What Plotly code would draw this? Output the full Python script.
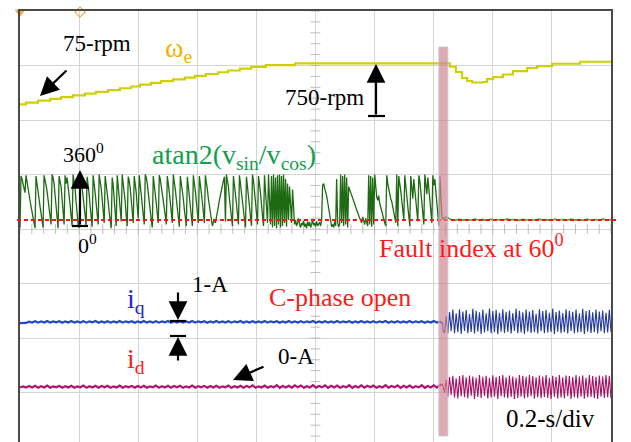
import numpy as np
import plotly.graph_objects as go

# ---------------------------------------------------------------------------
# Screen / timebase settings (scope style: 10 x 8 divisions, 0.2 s/div)
# ---------------------------------------------------------------------------
W, H = 631, 442
M_L, M_R, M_T = 20, 20, 11
DIV_X, DIV_Y = 10, 8
SEC_PER_DIV = 0.2
T_END = DIV_X * SEC_PER_DIV
PX_PER_DIV_Y = 54.5
Y_LOW = DIV_Y - (H - M_T) / PX_PER_DIV_Y  # lower screen edge (last row is cut)
T_FAULT = 1.431                             # C-phase open instant [s]
FAULT_INDEX_DEG = 60                        # detected fault index

# Channel offsets / gains (divisions)
OMEGA_ZERO, OMEGA_GAIN = 6.2045, 0.001114   # div, div per rpm
ANGLE_ZERO, ANGLE_GAIN = 4.0, 1 / 360        # div, div per degree
IQ_ZERO, ID_ZERO, AMP_GAIN = 2.0, 1.101, 0.2936  # div, div, div per A

# ---------------------------------------------------------------------------
# Recorded signals
# ---------------------------------------------------------------------------
omega_t = [0.000, 0.020, 0.061, 0.102, 0.139, 0.179, 0.220, 0.257, 0.298, 0.338,
           0.376, 0.406, 0.443, 0.477, 0.518, 0.558, 0.592, 0.629, 0.670, 0.704,
           0.744, 0.782, 0.832, 0.931, 1.431, 1.455, 1.475, 1.496, 1.513, 1.530,
           1.567, 1.580, 1.601, 1.634, 1.668, 1.716, 1.750, 1.800, 1.895, 2.000]
omega_rpm = [75, 104, 134, 163, 192, 222, 251, 280, 310, 339,
             368, 398, 427, 456, 486, 515, 544, 574, 603, 632,
             662, 691, 720, 750, 750, 694, 607, 508, 459, 434,
             442, 491, 524, 566, 623, 673, 705, 743, 776, 776]

# atan2(v_sin / v_cos) [deg] before the fault
angle_pre = [
    10, 350, 330, 300, 270, 240, 355, 320, 280, 230, 190, 150, 110, 70, 30, 5, 350, 310, 260, 200,
    150, 90, 40, 10, 355, 330, 290, 250, 200, 140, 80, 30, 360, 340, 300, 210, 120, 40, 5, 350,
    320, 280, 200, 110, 30, 355, 300, 340, 290, 230, 160, 90, 20, 360, 320, 260, 180, 100, 30, 8,
    355, 330, 280, 210, 150, 90, 20, 345, 300, 230, 150, 60, 15, 355, 310, 240, 170, 90, 30, 360,
    320, 270, 200, 120, 40, 350, 300, 240, 180, 110, 40, 5, 340, 290, 200, 90, 20, 355, 300, 210,
    130, 50, 360, 310, 250, 180, 90, 20, 345, 320, 270, 190, 110, 40, 350, 310, 240, 150, 70, 355,
    290, 220, 160, 100, 30, 360, 340, 300, 250, 190, 120, 60, 10, 350, 300, 230, 170, 100, 40, 355,
    330, 280, 240, 190, 140, 90, 30, 350, 300, 250, 180, 110, 40, 360, 320, 260, 200, 130, 60, 15,
    350, 310, 260, 200, 130, 60, 20, 345, 280, 210, 150, 80, 20, 355, 310, 250, 180, 110, 40, 350,
    300, 240, 180, 110, 40, 355, 320, 260, 200, 150, 90, 40, 20, 45, 60, 40, 70, 110, 150, 190,
    230, 260, 290, 320, 345, 50, 360, 330, 280, 200, 130, 60, 20, 350, 300, 240, 170, 100, 30, 355,
    300, 250, 190, 120, 50, 10, 345, 290, 220, 150, 80, 20, 360, 320, 250, 170, 100, 30, 350, 300,
    240, 160, 80, 20, 355, 260, 150, 40, 360, 200, 30, 350, 10, 360, 20, 340, 5, 355, 30, 360,
    10, 350, 20, 360, 40, 330, 15, 300, 60, 280, 120, 40, 260, 90, 30, 60, 20, 40, 70, 30,
    10, 40, 25, 55, 15, 35, 5, 50, 20, 45, 10, 30, 60, 25, 40, 15, 50, 20, 35, 45,
    20, 60, 290, 300, 270, 250, 220, 180, 130, 80, 40, 15, 30, 10, 50, 20, 330, 40, 15, 35,
    360, 40, 350, 20, 360, 30, 340, 10, 280, 260, 250, 230, 210, 190, 170, 150, 130, 110, 90, 70,
    60, 40, 80, 50, 30, 70, 40, 20, 355, 30, 350, 15, 340, 30, 360, 250, 210, 190, 220, 170,
    140, 120, 100, 70, 40, 20, 355, 300, 260, 230, 200, 180, 150, 120, 80, 40, 360, 20, 350, 310,
    250, 190, 130, 60, 355, 300, 220, 150, 80, 20, 350, 280, 200, 330, 260, 190, 120, 50, 355, 320,
    250, 180, 100, 30, 360, 300, 230, 340, 280, 200, 120, 40, 355, 290, 330, 250, 170, 80, 20, 350,
    200, 80, 60]
# after the fault the angle locks at the fault index
angle_post = [70, 78, 62, 57, 64, 59, 63, 58, 65, 60, 62, 57, 64, 59, 63, 58,
              65, 61, 62, 57, 64, 60, 63, 58, 65, 59, 62, 57, 64, 60, 63, 58,
              65, 59, 62, 57, 64, 60, 63, 58, 65, 59, 62]

# q-axis current [A]
iq_pre = [
    0.93, 0.95, 0.94, 1.02, 0.97, 1.05, 0.96, 1.04, 0.97, 1.06,
    0.96, 1.03, 0.98, 1.05, 0.95, 1.04, 0.97, 1.06, 0.96, 1.03,
    0.97, 1.05, 0.96, 1.04, 0.98, 1.06, 0.95, 1.04, 0.97, 1.05,
    0.96, 1.03, 0.97, 1.06, 0.96, 1.04, 0.98, 1.05, 0.95, 1.04,
    0.97, 1.06, 0.96, 1.03, 0.97, 1.05, 0.96, 1.04, 0.98, 1.06,
    0.95, 1.04, 0.97, 1.05, 0.96, 1.03, 0.97, 1.06, 0.96, 1.04,
    0.98, 1.05, 0.95, 1.04, 0.97, 1.06, 0.96, 1.03, 0.97, 1.05,
    0.96, 1.04, 0.98, 1.06, 0.95, 1.04, 0.97, 1.05, 0.96, 1.03,
    0.97, 1.06, 0.96, 1.04, 0.98, 1.05, 0.95, 1.04, 0.97, 1.06,
    0.96, 1.03, 0.97, 1.05, 0.96, 1.04, 0.98, 1.06, 0.95, 1.04,
    0.97, 1.05, 0.96, 1.03, 0.97, 1.06, 0.96, 1.04, 0.98, 1.05,
    0.95, 1.04, 0.97, 1.06, 0.96, 1.03, 0.97, 1.05, 0.96, 1.04,
    0.98, 1.06, 0.95, 1.04, 0.97, 1.05, 0.96, 1.03, 0.97, 1.06,
    0.96, 1.04, 0.98, 1.05, 0.95, 1.04, 0.97, 1.06, 0.96, 1.02,
    0.90]
iq_post = [
    0.50, 0.32, 1.35, 0.28, 1.62, 0.42, 1.78, 0.30, 1.55, 0.36,
    1.80, 0.25, 1.66, 0.44, 1.74, 0.30, 1.50, 0.38, 1.82, 0.28,
    1.70, 0.40, 1.60, 0.26, 1.78, 0.34, 1.55, 0.42, 1.84, 0.30,
    1.68, 0.36, 1.76, 0.24, 1.58, 0.40, 1.80, 0.32, 1.64, 0.38,
    1.72, 0.28, 1.56, 0.44, 1.82, 0.30, 1.70, 0.34, 1.60, 0.26,
    1.78, 0.40, 1.66, 0.32, 1.74, 0.36, 1.52, 0.28, 1.80, 0.42,
    1.68, 0.30, 1.76, 0.34, 1.58, 0.38, 1.84, 0.26, 1.62, 0.40,
    1.72, 0.32, 1.56, 0.36, 1.80, 0.28, 1.70, 0.44, 1.64, 0.30,
    1.78, 0.34, 1.54, 0.38, 1.82, 0.26, 1.68, 0.40, 1.74, 0.32,
    1.60, 0.36, 1.78, 0.28, 1.66, 0.42, 1.72, 0.30, 1.58, 0.34,
    1.76, 0.38]

# d-axis current [A]
id_pre = [
    -0.02, 0.03, -0.04, 0.06, -0.03, 0.08, -0.05, 0.05, -0.03, 0.09,
    -0.04, 0.04, -0.02, 0.07, -0.05, 0.05, -0.03, 0.08, -0.04, 0.04,
    -0.02, 0.09, -0.05, 0.05, -0.03, 0.07, -0.04, 0.06, -0.02, 0.08,
    -0.05, 0.04, -0.03, 0.09, -0.04, 0.05, -0.02, 0.07, -0.05, 0.06,
    -0.03, 0.08, -0.04, 0.04, -0.02, 0.09, -0.05, 0.05, -0.03, 0.07,
    -0.04, 0.06, -0.02, 0.08, -0.05, 0.04, -0.03, 0.09, -0.04, 0.05,
    -0.02, 0.07, -0.05, 0.06, -0.03, 0.08, -0.04, 0.04, -0.02, 0.09,
    -0.05, 0.05, -0.03, 0.07, -0.04, 0.06, -0.02, 0.10, -0.05, 0.04,
    -0.03, 0.09, -0.04, 0.05, -0.02, 0.11, -0.05, 0.06, -0.03, 0.08,
    -0.04, 0.10, -0.02, 0.09, -0.05, 0.05, -0.03, 0.11, -0.04, 0.06,
    -0.02, 0.10, -0.05, 0.08, -0.03, 0.09, -0.04, 0.05, -0.02, 0.11,
    -0.05, 0.06, -0.03, 0.10, -0.04, 0.08, -0.02, 0.09, -0.05, 0.05,
    -0.03, 0.11, -0.04, 0.06, -0.02, 0.10, -0.05, 0.08, -0.03, 0.09,
    -0.04, 0.05, -0.02, 0.11, -0.05, 0.06, -0.03, 0.10, -0.04, 0.12,
    0.15]
id_post = [
    0.10, -0.35, 0.45, -0.60, 0.62, -0.50, 0.70, -0.66, 0.55, -0.72,
    0.68, -0.58, 0.74, -0.64, 0.60, -0.70, 0.72, -0.55, 0.66, -0.74,
    0.58, -0.62, 0.75, -0.68, 0.64, -0.56, 0.70, -0.72, 0.57, -0.66,
    0.73, -0.60, 0.62, -0.74, 0.69, -0.58, 0.74, -0.65, 0.60, -0.70,
    0.72, -0.62, 0.66, -0.75, 0.58, -0.68, 0.74, -0.60, 0.70, -0.72,
    0.63, -0.66, 0.75, -0.58, 0.68, -0.73, 0.60, -0.64, 0.72, -0.70,
    0.66, -0.62, 0.74, -0.68, 0.58, -0.74, 0.70, -0.60, 0.64, -0.72,
    0.75, -0.66, 0.60, -0.70, 0.72, -0.58, 0.68, -0.74, 0.62, -0.64,
    0.74, -0.70, 0.66, -0.60, 0.72, -0.73, 0.58, -0.66, 0.75, -0.62,
    0.68, -0.70, 0.64, -0.74, 0.72, -0.60, 0.66, -0.68, 0.74, -0.64,
    0.70, -0.72]


def timebase(n, t0, t1):
    return np.linspace(t0, t1, n)


def px_t(x):
    """Screen pixel column -> time [s]."""
    return (x - M_L) / (W - M_L - M_R) * T_END


def px_d(y):
    """Screen pixel row -> division."""
    return DIV_Y - (y - M_T) / PX_PER_DIV_Y


omega_div = OMEGA_ZERO + OMEGA_GAIN * np.array(omega_rpm)
ang_t = np.concatenate([timebase(len(angle_pre), 0, T_FAULT),
                        timebase(len(angle_post), T_FAULT, T_END)])
ang_div = ANGLE_ZERO + ANGLE_GAIN * np.array(angle_pre + angle_post)
cur_t = np.concatenate([timebase(len(iq_pre), 0, T_FAULT),
                        timebase(len(iq_post), T_FAULT, T_END)])
iq_div = IQ_ZERO + AMP_GAIN * np.array(iq_pre + iq_post)
id_div = ID_ZERO + AMP_GAIN * np.array(id_pre + id_post)
n_pre_a = len(angle_pre)
n_pre_c = len(iq_pre)

fig = go.Figure()

# graticule minor ticks on the centre axes
minor_y = np.arange(0, DIV_Y + 1e-9, 0.2)
minor_x = np.arange(0, T_END + 1e-9, SEC_PER_DIV / 5)
fig.add_trace(go.Scatter(x=np.full(len(minor_y), T_END / 2), y=minor_y, mode="markers",
                         marker=dict(symbol="line-ew", size=7, line=dict(width=1, color="#bdbdbd")),
                         hoverinfo="skip", showlegend=False))
fig.add_trace(go.Scatter(x=minor_x, y=np.full(len(minor_x), DIV_Y / 2), mode="markers",
                         marker=dict(symbol="line-ns", size=7, line=dict(width=1, color="#bdbdbd")),
                         hoverinfo="skip", showlegend=False))

# omega_e
fig.add_trace(go.Scatter(x=omega_t, y=omega_div, mode="lines", line_shape="hv",
                         line=dict(color="#cfcf08", width=2.2), showlegend=False))
# angle
fig.add_trace(go.Scatter(x=ang_t[:n_pre_a], y=ang_div[:n_pre_a], mode="lines",
                         line=dict(color="#1d6a12", width=1.3), showlegend=False))
fig.add_trace(go.Scatter(x=ang_t[n_pre_a - 1:], y=ang_div[n_pre_a - 1:], mode="lines",
                         line=dict(color="#36b02a", width=1.6), showlegend=False))
# iq
fig.add_trace(go.Scatter(x=cur_t[:n_pre_c], y=iq_div[:n_pre_c], mode="lines",
                         line=dict(color="#2447c8", width=2.2), showlegend=False))
fig.add_trace(go.Scatter(x=cur_t[n_pre_c - 1:], y=iq_div[n_pre_c - 1:], mode="lines",
                         line=dict(color="#23399a", width=1.1), showlegend=False))
# id
fig.add_trace(go.Scatter(x=cur_t[:n_pre_c], y=id_div[:n_pre_c], mode="lines",
                         line=dict(color="#b3126e", width=2.2), showlegend=False))
fig.add_trace(go.Scatter(x=cur_t[n_pre_c - 1:], y=id_div[n_pre_c - 1:], mode="lines",
                         line=dict(color="#a50f64", width=1.1), showlegend=False))

# channel reference markers at the screen edge
fig.add_trace(go.Scatter(x=[px_t(17), px_t(17), px_t(17)], y=[px_d(118), px_d(382), px_d(440)],
                         mode="markers", cliponaxis=False,
                         marker=dict(symbol="triangle-right", size=6,
                                     color=["#e3d300", "#d0208a", "#d0208a"]),
                         hoverinfo="skip", showlegend=False))
fig.add_trace(go.Scatter(x=[px_t(20), px_t(80)], y=[px_d(12), px_d(12)], mode="markers",
                         cliponaxis=False,
                         marker=dict(symbol=["triangle-down", "diamond-open"], size=[8, 8],
                                     color="#f08a10", line=dict(width=1.2, color="#f08a10")),
                         hoverinfo="skip", showlegend=False))

shapes = []
# fault index level
fault_level = ANGLE_ZERO + ANGLE_GAIN * FAULT_INDEX_DEG
shapes.append(dict(type="line", xref="paper", yref="y",
                   x0=(17 - M_L) / (W - M_L - M_R), x1=(618 - M_L) / (W - M_L - M_R),
                   y0=fault_level, y1=fault_level,
                   line=dict(color="#ff1010", width=2, dash="4px,3px"), layer="above"))
# fault instant marker band
shapes.append(dict(type="rect", xref="x", yref="y",
                   x0=T_FAULT - px_t(24) + px_t(20), x1=T_FAULT + px_t(25) - px_t(20),
                   y0=px_d(436), y1=px_d(47),
                   fillcolor="rgba(214,128,142,0.68)",
                   line=dict(color="rgba(175,205,232,0.9)", width=1), layer="above"))
# bars at the ends of measurement arrows
for (xa, xb, yy) in [(368, 385, 116), (72, 88, 226), (170, 186, 321), (170, 186, 336)]:
    shapes.append(dict(type="line", xref="x", yref="y", x0=px_t(xa), x1=px_t(xb),
                       y0=px_d(yy), y1=px_d(yy), line=dict(color="black", width=2.2)))

SERIF = "Liberation Serif"
annotations = []


def label(text, x, y, size, color="black"):
    annotations.append(dict(text=text, x=px_t(x), y=px_d(y), xref="x", yref="y",
                            xanchor="left", yanchor="middle", showarrow=False,
                            font=dict(family=SERIF, size=size, color=color)))


def arrow(tip, tail):
    annotations.append(dict(text="", x=px_t(tip[0]), y=px_d(tip[1]), xref="x", yref="y",
                            ax=tail[0] - tip[0], ay=tail[1] - tip[1], showarrow=True,
                            arrowhead=2, arrowsize=1.7, arrowwidth=2.2, arrowcolor="black"))


label("75-rpm", 61, 43, 23)
label("ω<sub>e</sub>", 163, 49, 28, "#f2b300")
label("750-rpm", 283, 97, 23)
label("360<sup>0</sup>", 61, 153, 22)
label("atan2(v<sub>sin</sub>/v<sub>cos</sub>)", 150, 156, 28, "#12a04c")
label("0<sup>0</sup>", 76, 244, 22)
label("Fault index at 60<sup>0</sup>", 377, 246, 26, "#ff1a1a")
label("i<sub>q</sub>", 125, 300, 28, "#1c22ee")
label("1-A", 190, 284, 23)
label("C-phase open", 267, 297, 26, "#ff1a1a")
label("i<sub>d</sub>", 125, 360, 28, "#ff1a1a")
label("0-A", 276, 356, 23)
label("0.2-s/div", 504, 418, 25)

arrow((40, 96), (68, 69))
arrow((376, 64), (376, 116))
arrow((80, 170), (80, 226))
arrow((178, 320), (178, 291))
arrow((178, 337), (178, 362))
arrow((233, 380), (265, 366))

fig.update_layout(
    width=W, height=H,
    margin=dict(l=M_L, r=M_R, t=M_T, b=0, pad=0),
    paper_bgcolor="white", plot_bgcolor="white",
    shapes=shapes, annotations=annotations,
    xaxis=dict(range=[0, T_END], dtick=SEC_PER_DIV, tick0=0, showgrid=True,
               gridcolor="#d4d4d4", gridwidth=1, zeroline=False, showticklabels=False,
               ticks="", side="top", showline=True, linecolor="#4a4a4a", linewidth=1.5,
               mirror=False, fixedrange=True),
    yaxis=dict(range=[Y_LOW, DIV_Y], dtick=1, tick0=0, showgrid=True,
               gridcolor="#d4d4d4", gridwidth=1, zeroline=False, showticklabels=False,
               ticks="", showline=True, linecolor="#4a4a4a", linewidth=1.5,
               mirror=True, fixedrange=True),
)

fig.write_html("out.html")
